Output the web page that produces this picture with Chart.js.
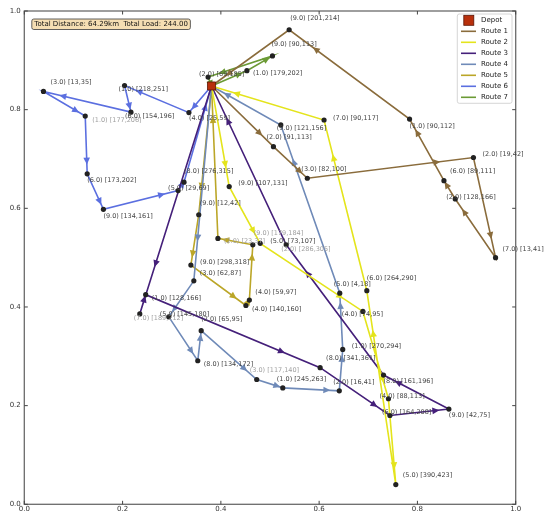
<!DOCTYPE html>
<html><head><meta charset="utf-8">
<script src="https://cdn.jsdelivr.net/npm/chart.js@4.4.1/dist/chart.umd.min.js"></script>
<style>html,body{margin:0;padding:0;background:#fff;}canvas{display:block;}</style>
</head><body>
<canvas id="c" width="550" height="521"></canvas>
<script>
// ---------------- data ----------------
const depot = {x: 0.381, y: 0.848};
const nodeX = [0.039,0.124,0.204,0.217,0.335,0.374,0.453,0.505,0.539,0.610,
               0.784,0.522,0.507,0.576,0.914,0.854,0.877,0.959,0.128,0.161,
               0.313,0.325,0.417,0.355,0.394,0.465,0.480,0.533,0.339,0.345,
               0.458,0.451,0.247,0.235,0.294,0.360,0.353,0.473,0.526,0.641,
               0.602,0.648,0.642,0.697,0.689,0.731,0.741,0.744,0.864,0.756];
const nodeY = [0.837,0.787,0.849,0.795,0.794,0.866,0.879,0.909,0.962,0.779,
               0.781,0.769,0.725,0.661,0.703,0.656,0.619,0.500,0.670,0.598,
               0.636,0.653,0.644,0.587,0.539,0.526,0.529,0.526,0.485,0.453,
               0.414,0.403,0.425,0.386,0.380,0.352,0.291,0.253,0.236,0.230,
               0.277,0.314,0.428,0.433,0.391,0.262,0.214,0.180,0.193,0.040];
const nodeDemand = [3,1,1,6,4,2,1,9,9,7, 1,9,2,3,2,6,2,7,6,9,
                    5,8,9,9,2,9,5,2,9,3, 4,4,1,7,5,2,8,3,1,2,
                    8,1,5,6,4,8,4,6,9,5];
const nodeWindow = ['13,35','177,206','218,251','154,196','25,59','69,185','179,202','90,113','201,214','90,117',
                    '90,112','121,156','91,113','82,100','19,42','89,111','128,166','13,41','173,202','134,161',
                    '29,69','276,315','107,131','12,42','23,37','179,184','73,107','286,305','298,318','62,87',
                    '59,97','140,160','128,166','189,212','145,180','65,95','134,172','117,140','245,263','16,41',
                    '341,361','270,294','4,18','264,290','74,95','161,196','88,113','164,208','42,75','390,423'];
const routeNames = ['Route 1','Route 2','Route 3','Route 4','Route 5','Route 6','Route 7'];
const route1 = [12,13,14,17,16,15,10,8];
const route2 = [22,26,44,46,49,43,9];
const route3 = [33,32,40,47,48,45,27];
const route4 = [29,34,36,35,37,38,39,41,42,11];
const route5 = [23,28,31,30,25,24];
const route6 = [4,2,3,0,1,18,19,20,21];
const route7 = [6,7,5];
const totalDistanceKm = 64.29;
const totalLoad = 244.00;
const tickValues = [0,0.2,0.4,0.6,0.8,1.0];

// ---------------- styles ----------------
const routeColors = ['#8a6c3c','#e4e41c','#45207a','#6f8ab8','#bba628','#5b6fe0','#6b9a35'];
const fadedLabels = [1,24,25,27,33,37];
const labelOffsets = [[7,-9],[7,4],[-6,4],[-6,4],[0,6],[-9,-3],[6,3],[-1,-12],[1,-11],[9,-2],
  [0,7],[-4,3],[-7,-9],[-6,-9],[9,-3],[6,-9],[-9,-2],[7,-8],[0,7],[0,7],
  [-10,-2],[0,-11],[9,-3],[1,-11],[6,3],[1,-12],[10,-2],[-5,4],[9,-3],[6,-8],
  [6,-8],[6,4],[6,4],[-6,4],[-9,-3],[0,-11],[6,4],[-7,-9],[-6,-9],[-6,-9],
  [6,-9],[9,-3],[-6,-9],[0,-12],[-21,3],[0,6],[-9,-2],[-8,-3],[0,6],[7,-9]];
const FONT = 'DejaVu Sans';

// ---------------- build ----------------
const routes = [route1,route2,route3,route4,route5,route6,route7];
const pt = i => ({x: nodeX[i], y: nodeY[i]});
const datasets = routes.map((r, k) => ({
  label: routeNames[k], isRoute: true,
  data: [depot, ...r.map(pt), depot],
  showLine: true, borderColor: routeColors[k], backgroundColor: routeColors[k],
  borderWidth: 1.6, pointRadius: 0, order: 3
}));
datasets.push({label: 'Customers', data: nodeX.map((_, i) => pt(i)), pointRadius: 2.6,
  pointBackgroundColor: '#222', pointBorderWidth: 0, showLine: false, order: 2});
datasets.push({label: 'Depot', data: [depot], pointStyle: 'rect', pointRadius: 5.7,
  pointBackgroundColor: '#b8300c', pointBorderColor: '#5a1505', pointBorderWidth: 0.8, showLine: false, order: 1});

const arrowPlugin = {
  id: 'arrows',
  afterDatasetDraw(chart, args) {
    const ds = chart.data.datasets[args.index];
    if (!ds.isRoute) return;
    const pts = args.meta.data, ctx = chart.ctx;
    ctx.save(); ctx.fillStyle = ds.borderColor;
    for (let i = 0; i < pts.length - 1; i++) {
      const a = pts[i], b = pts[i+1];
      const dx = b.x - a.x, dy = b.y - a.y, L = Math.hypot(dx, dy);
      if (L < 6) continue;
      const ux = dx / L, uy = dy / L, t = 0.78;
      const cx = a.x + dx * t, cy = a.y + dy * t;
      const len = 7, hw = 3.3;
      ctx.beginPath();
      ctx.moveTo(cx + ux * len/2, cy + uy * len/2);
      ctx.lineTo(cx - ux * len/2 - uy * hw, cy - uy * len/2 + ux * hw);
      ctx.lineTo(cx - ux * len/2 + uy * hw, cy - uy * len/2 - ux * hw);
      ctx.closePath(); ctx.fill();
    }
    ctx.restore();
  }
};

const framePlugin = {
  id: 'frame',
  beforeDatasetsDraw(chart) {
    const {ctx, chartArea: ca, scales: {x, y}} = chart;
    ctx.save();
    ctx.strokeStyle = '#6b6b6b'; ctx.lineWidth = 1.3;
    ctx.strokeRect(ca.left, ca.top, ca.right - ca.left, ca.bottom - ca.top);
    ctx.lineWidth = 1; ctx.strokeStyle = '#444';
    const tl = 3.5;
    tickValues.forEach(v => {
      const px = x.getPixelForValue(v), py = y.getPixelForValue(v);
      ctx.beginPath();
      ctx.moveTo(px, ca.bottom); ctx.lineTo(px, ca.bottom - tl);
      ctx.moveTo(px, ca.top); ctx.lineTo(px, ca.top + tl);
      ctx.moveTo(ca.left, py); ctx.lineTo(ca.left + tl, py);
      ctx.moveTo(ca.right, py); ctx.lineTo(ca.right - tl, py);
      ctx.stroke();
    });
    ctx.restore();
  }
};

const labelPlugin = {
  id: 'nodeLabels',
  afterDatasetsDraw(chart) {
    const {ctx, scales: {x, y}} = chart;
    ctx.save();
    ctx.font = '6.5px "' + FONT + '"';
    ctx.textAlign = 'left'; ctx.textBaseline = 'middle';
    nodeX.forEach((vx, i) => {
      const px = x.getPixelForValue(vx) + labelOffsets[i][0];
      const py = y.getPixelForValue(nodeY[i]) + labelOffsets[i][1];
      ctx.fillStyle = fadedLabels.includes(i) ? '#a0a0a0' : '#444';
      ctx.fillText('(' + nodeDemand[i].toFixed(1) + ') [' + nodeWindow[i] + ']', px, py);
    });
    ctx.restore();
  }
};

function roundRect(ctx, x, y, w, h, r) {
  ctx.beginPath();
  ctx.moveTo(x + r, y); ctx.lineTo(x + w - r, y); ctx.quadraticCurveTo(x + w, y, x + w, y + r);
  ctx.lineTo(x + w, y + h - r); ctx.quadraticCurveTo(x + w, y + h, x + w - r, y + h);
  ctx.lineTo(x + r, y + h); ctx.quadraticCurveTo(x, y + h, x, y + h - r);
  ctx.lineTo(x, y + r); ctx.quadraticCurveTo(x, y, x + r, y); ctx.closePath();
}

const overlayPlugin = {
  id: 'overlay',
  afterDraw(chart) {
    const {ctx, chartArea: ca} = chart;
    ctx.save();
    // summary box
    ctx.font = '7px "' + FONT + '"';
    const txt = 'Total Distance: ' + totalDistanceKm.toFixed(2) + 'km  Total Load: ' + totalLoad.toFixed(2);
    const tw = ctx.measureText(txt).width;
    const bx = ca.left + 7.5, by = ca.top + 8;
    roundRect(ctx, bx, by, tw + 5, 10.5, 2);
    ctx.fillStyle = '#f5deb3'; ctx.fill();
    ctx.strokeStyle = '#3a3a3a'; ctx.lineWidth = 0.8; ctx.stroke();
    ctx.fillStyle = '#111'; ctx.textBaseline = 'middle'; ctx.textAlign = 'left';
    ctx.fillText(txt, bx + 2.5, by + 5.5);
    // legend
    const lx = ca.right - 58.4, ly = ca.top + 3, lw = 54.7, lh = 89.3;
    roundRect(ctx, lx, ly, lw, lh, 2);
    ctx.fillStyle = 'rgba(255,255,255,0.85)'; ctx.fill();
    ctx.strokeStyle = '#cccccc'; ctx.lineWidth = 0.8; ctx.stroke();
    const rowY = k => ly + 6.3 + k * 11;
    ctx.fillStyle = '#b8300c'; ctx.strokeStyle = '#5a1505'; ctx.lineWidth = 0.8;
    ctx.fillRect(lx + 6.5, rowY(0) - 5, 10, 10); ctx.strokeRect(lx + 6.5, rowY(0) - 5, 10, 10);
    ctx.fillStyle = '#222';
    ctx.fillText('Depot', lx + 23.7, rowY(0));
    chart.data.datasets.filter(d => d.isRoute).forEach((d, k) => {
      const yy = rowY(k + 1);
      ctx.strokeStyle = d.borderColor; ctx.lineWidth = 1.6;
      ctx.beginPath(); ctx.moveTo(lx + 3.7, yy); ctx.lineTo(lx + 18.7, yy); ctx.stroke();
      ctx.fillStyle = '#222';
      ctx.fillText(d.label, lx + 23.7, yy);
    });
    ctx.restore();
  }
};

Chart.defaults.font.family = FONT;
new Chart(document.getElementById('c'), {
  type: 'scatter',
  data: {datasets},
  options: {
    responsive: false, animation: false, devicePixelRatio: 1,
    layout: {padding: {top: 11, right: 34.3, left: 0, bottom: 0}},
    plugins: {legend: {display: false}, tooltip: {enabled: false}},
    scales: {
      x: {type: 'linear', min: 0, max: 1, afterFit: s => { s.height = 16.7; },
          afterBuildTicks: s => { s.ticks = tickValues.map(v => ({value: v})); },
          grid: {display: false, drawTicks: false}, border: {display: false},
          ticks: {autoSkip: false, maxRotation: 0, padding: 1, color: '#333', font: {size: 7},
                  callback: v => v.toFixed(1)}},
      y: {type: 'linear', min: 0, max: 1, afterFit: s => { s.width = 24.3; },
          afterBuildTicks: s => { s.ticks = tickValues.map(v => ({value: v})); },
          grid: {display: false, drawTicks: false}, border: {display: false},
          ticks: {autoSkip: false, padding: 3.5, color: '#333', font: {size: 7},
                  callback: v => v.toFixed(1)}}
    }
  },
  plugins: [framePlugin, arrowPlugin, labelPlugin, overlayPlugin]
});
</script>
</body></html>
